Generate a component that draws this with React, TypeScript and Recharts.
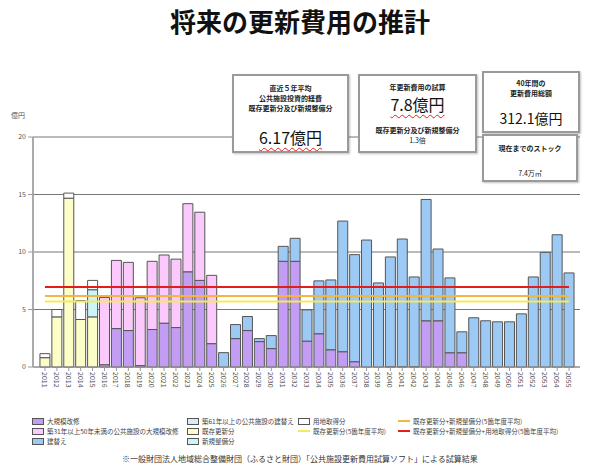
import React from 'react';
import { Bar, BarChart, CartesianGrid, ReferenceLine, XAxis, YAxis } from 'recharts';

const years = [
  '2011', '2012', '2013', '2014', '2015', '2016', '2017', '2018', '2019', '2020',
  '2021', '2022', '2023', '2024', '2025', '2026', '2027', '2028', '2029', '2030',
  '2031', '2032', '2033', '2034', '2035', '2036', '2037', '2038', '2039', '2040',
  '2041', '2042', '2043', '2044', '2045', '2046', '2047', '2048', '2049', '2050',
  '2051', '2052', '2053', '2054', '2055'
];

// 大規模改修
const majorRepair = [
  0, 0, 0, 0, 0, 0.2, 3.34, 3.17, 0.12, 3.26,
  3.81, 3.43, 8.28, 7.53, 2.03, 0, 2.47, 3.17, 2.21, 1.6,
  9.19, 9.19, 2.25, 2.89, 1.5, 1.33, 0.46, 0, 0, 0.03,
  0.03, 0.03, 4.02, 4.02, 1.24, 1.24, 0, 0, 0, 0,
  0, 0, 0, 0, 0
];
// 築31年以上50年未満の公共施設の大規模改修
const midAgeRepair = [
  0, 0, 0, 0, 0, 5.85, 5.93, 5.93, 5.9, 5.93,
  5.93, 5.95, 5.92, 5.93, 5.94, 0, 0, 0, 0, 0,
  0, 0, 0, 0, 0, 0, 0, 0, 0, 0,
  0, 0, 0, 0, 0, 0, 0, 0, 0, 0,
  0, 0, 0, 0, 0
];
// 建替え
const rebuild = [
  0, 0, 0, 0, 0, 0, 0, 0, 0, 0,
  0, 0, 0, 0, 0, 1.25, 1.22, 1.22, 0.26, 1.13,
  1.3, 2.0, 2.72, 4.6, 6.07, 11.36, 9.31, 11.04, 7.31, 9.54,
  11.1, 7.8, 10.55, 6.24, 6.51, 1.82, 4.28, 4.02, 3.93, 3.93,
  4.62, 7.83, 9.97, 11.5, 8.18
];
// 既存更新分 / 新規整備分 / 用地取得分 (2011-2015 実績)
const existingUpdate = [0.81, 4.36, 14.68, 4.13, 4.36];
const newBuild = [0, 0, 0, 0, 2.36];
const landAcq = [0.35, 0.64, 0.44, 1.65, 0.81];

const avgExisting = 5.7;
const avgExistingNew = 6.17;
const avgExistingNewLand = 6.95;

const yTicks = [0, 5, 10, 15, 20];

const colors = {
  major: '#c39cf4',
  mid: '#fbc9fb',
  rebuild: '#9ccaf5',
  old61: '#dde8f8',
  existing: '#fdfdc8',
  newBuild: '#ccf5fa',
  land: '#ffffff',
  lineYellow: '#f6ea5c',
  lineOrange: '#f2b643',
  lineRed: '#e01e1e'
};

const data = years.map((year, i) => ({
  year,
  major: majorRepair[i],
  mid: midAgeRepair[i],
  existing: existingUpdate[i] ?? 0,
  newBuild: newBuild[i] ?? 0,
  land: landAcq[i] ?? 0,
  rebuild: rebuild[i]
}));

const font = '"Noto Sans CJK JP", "Noto Sans", sans-serif';

function YearTick({ x, y, payload }: any) {
  return (
    <text
      x={x}
      y={y}
      transform={`rotate(90 ${x} ${y})`}
      textAnchor="start"
      dominantBaseline="central"
      fontSize={7}
      fill="#555"
      fontFamily={font}
    >
      {payload.value}
    </text>
  );
}

function InfoBox({ style, children }: { style: React.CSSProperties; children: React.ReactNode }) {
  return (
    <div
      style={{
        position: 'absolute',
        boxSizing: 'border-box',
        background: '#fff',
        border: '2px solid #9a9a9a',
        boxShadow: '1px 1px 2px rgba(0,0,0,0.25)',
        textAlign: 'center',
        color: '#222',
        fontWeight: 'bold',
        fontSize: 7,
        lineHeight: '10px',
        ...style
      }}
    >
      {children}
    </div>
  );
}

const legendRows = [
  { x: 32, y: 421, kind: 'box', color: colors.major, label: '大規模改修' },
  { x: 32, y: 431, kind: 'box', color: colors.mid, label: '築31年以上50年未満の公共施設の大規模改修' },
  { x: 32, y: 441, kind: 'box', color: colors.rebuild, label: '建替え' },
  { x: 187, y: 421, kind: 'box', color: colors.old61, label: '築61年以上の公共施設の建替え' },
  { x: 187, y: 431, kind: 'box', color: colors.existing, label: '既存更新分' },
  { x: 187, y: 441, kind: 'box', color: colors.newBuild, label: '新規整備分' },
  { x: 298, y: 421, kind: 'box', color: colors.land, label: '用地取得分' },
  { x: 298, y: 431, kind: 'line', color: colors.lineYellow, label: '既存更新分(5箇年度平均)' },
  { x: 398, y: 421, kind: 'line', color: colors.lineOrange, label: '既存更新分+新規整備分(5箇年度平均)' },
  { x: 398, y: 431, kind: 'line', color: colors.lineRed, label: '既存更新分+新規整備分+用地取得分(5箇年度平均)' }
];

export default function App() {
  const wavy: React.CSSProperties = {
    textDecoration: 'underline wavy #e02020',
    textDecorationThickness: 1,
    textUnderlineOffset: 3
  };
  return (
    <div style={{ position: 'absolute', left: 0, top: 0, width: 600, height: 466, background: '#fff', fontFamily: font }}>
      <div style={{ position: 'absolute', left: 0, top: 4, width: 600, textAlign: 'center', fontSize: 26, fontWeight: 'bold', color: '#111', lineHeight: '34px' }}>
        将来の更新費用の推計
      </div>
      <div style={{ position: 'absolute', left: 11, top: 110, fontSize: 7, color: '#555' }}>億円</div>

      <div style={{ position: 'absolute', left: 0, top: 0 }}>
        <BarChart
          width={600}
          height={466}
          data={data}
          margin={{ top: 137, right: 20, bottom: 69, left: 0 }}
          barCategoryGap="8%"
        >
          <CartesianGrid vertical={false} stroke="#777" strokeWidth={1} />
          <XAxis
            dataKey="year"
            interval={0}
            height={30}
            padding={{ left: 6, right: 5 }}
            tick={<YearTick />}
            tickSize={4}
            tickMargin={1}
            stroke="#999"
          />
          <YAxis
            domain={[0, 20]}
            ticks={yTicks}
            width={33}
            tickSize={5}
            tick={{ fontSize: 7, fill: '#555', fontFamily: font }}
            axisLine={{ stroke: '#aaa', strokeWidth: 2 }}
            tickLine={{ stroke: '#999' }}
          />
          <YAxis yAxisId="right" orientation="right" width={0} tick={false} tickLine={false} axisLine={{ stroke: '#999' }} />
          <Bar dataKey="major" stackId="a" fill={colors.major} stroke="#555" strokeWidth={1} isAnimationActive={false} />
          <Bar dataKey="mid" stackId="a" fill={colors.mid} stroke="#555" strokeWidth={1} isAnimationActive={false} />
          <Bar dataKey="existing" stackId="a" fill={colors.existing} stroke="#555" strokeWidth={1} isAnimationActive={false} />
          <Bar dataKey="newBuild" stackId="a" fill={colors.newBuild} stroke="#555" strokeWidth={1} isAnimationActive={false} />
          <Bar dataKey="land" stackId="a" fill={colors.land} stroke="#555" strokeWidth={1} isAnimationActive={false} />
          <Bar dataKey="rebuild" stackId="a" fill={colors.rebuild} stroke="#555" strokeWidth={1} isAnimationActive={false} />
          <ReferenceLine segment={[{ x: '2011', y: avgExisting }, { x: '2055', y: avgExisting }]} stroke={colors.lineYellow} strokeWidth={2} />
          <ReferenceLine segment={[{ x: '2011', y: avgExistingNew }, { x: '2055', y: avgExistingNew }]} stroke={colors.lineOrange} strokeWidth={2} />
          <ReferenceLine segment={[{ x: '2011', y: avgExistingNewLand }, { x: '2055', y: avgExistingNewLand }]} stroke={colors.lineRed} strokeWidth={2} />
        </BarChart>
      </div>

      <InfoBox style={{ left: 232, top: 74, width: 117, height: 79, paddingTop: 7 }}>
        <div>直近５年平均</div>
        <div>公共施設投資的経費</div>
        <div>既存更新分及び新規整備分</div>
        <div style={{ fontSize: 16, lineHeight: '20px', marginTop: 14, fontWeight: 'normal', color: '#111' }}>
          <span style={wavy}>6.17億円</span>
        </div>
      </InfoBox>
      <InfoBox style={{ left: 358, top: 74, width: 119, height: 79, paddingTop: 6 }}>
        <div>年更新費用の試算</div>
        <div style={{ fontSize: 16, lineHeight: '22px', marginTop: 1, fontWeight: 'normal', color: '#111' }}>
          <span style={wavy}>7.8億円</span>
        </div>
        <div style={{ marginTop: 10 }}>既存更新分及び新規整備分</div>
        <div style={{ marginTop: 0, fontWeight: 'normal' }}>1.3倍</div>
      </InfoBox>
      <InfoBox style={{ left: 482, top: 71, width: 98, height: 62, paddingTop: 5 }}>
        <div>40年間の</div>
        <div>更新費用総額</div>
        <div style={{ fontSize: 14, lineHeight: '18px', marginTop: 11, fontWeight: 'normal', color: '#111' }}>312.1億円</div>
      </InfoBox>
      <InfoBox style={{ left: 482, top: 134, width: 96, height: 48, paddingTop: 7 }}>
        <div>現在までのストック</div>
        <div style={{ marginTop: 15, fontWeight: 'normal' }}>7.4万㎡</div>
      </InfoBox>

      {legendRows.map((r) => (
        <div key={r.label} style={{ position: 'absolute', left: r.x, top: r.y - 5, height: 10, display: 'flex', alignItems: 'center', fontSize: 6.5, color: '#444', whiteSpace: 'nowrap' }}>
          {r.kind === 'box' ? (
            <span style={{ display: 'inline-block', width: 10, height: 5, background: r.color, border: '1px solid #555', marginRight: 3 }} />
          ) : (
            <span style={{ display: 'inline-block', width: 12, height: 2, background: r.color, marginRight: 3 }} />
          )}
          {r.label}
        </div>
      ))}

      <div style={{ position: 'absolute', left: 0, top: 453, width: 600, textAlign: 'center', fontSize: 8, color: '#333' }}>
        ※一般財団法人地域総合整備財団（ふるさと財団）「公共施設更新費用試算ソフト」による試算結果
      </div>
    </div>
  );
}
